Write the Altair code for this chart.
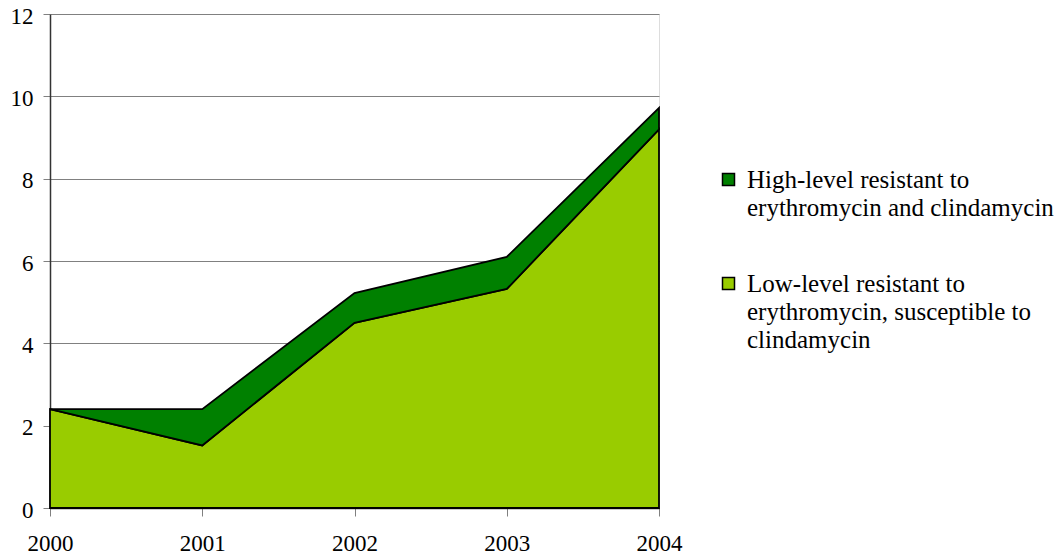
import altair as alt
import pandas as pd

years = [2000, 2001, 2002, 2003, 2004]
low_level = [2.4, 1.52, 4.5, 5.32, 9.2]
high_level = [0.0, 0.88, 0.72, 0.78, 0.52]
series = [
    "High-level resistant to erythromycin and clindamycin",
    "Low-level resistant to erythromycin, susceptible to clindamycin",
]
colors = ["#008000", "#99CC00"]

rows = []
for i, yr in enumerate(years):
    rows.append({"year": yr, "series": series[1], "value": low_level[i], "ord": 0})
    rows.append({"year": yr, "series": series[0], "value": high_level[i], "ord": 1})
df = pd.DataFrame(rows)

FONT = "Liberation Serif"

label_expr = (
    "datum.label == '" + series[0] + "' ? ['High-level resistant to', 'erythromycin and clindamycin']"
    " : ['Low-level resistant to', 'erythromycin, susceptible to', 'clindamycin']"
)

chart = (
    alt.Chart(df)
    .mark_area(stroke="black", strokeWidth=1.8, opacity=1)
    .encode(
        x=alt.X(
            "year:Q",
            scale=alt.Scale(domain=[2000, 2004], nice=False, zero=False),
            axis=alt.Axis(
                values=years,
                format="d",
                title=None,
                grid=False,
                tickSize=8,
                tickColor="#808080",
                domainColor="#333333",
                domainWidth=1.5,
                labelPadding=16,
                labelFont=FONT,
                labelFontSize=23,
                labelColor="black",
                labelFlush=False,
            ),
        ),
        y=alt.Y(
            "value:Q",
            stack="zero",
            scale=alt.Scale(domain=[0, 12], nice=False),
            axis=alt.Axis(
                values=[0, 2, 4, 6, 8, 10, 12],
                title=None,
                grid=True,
                gridColor="#808080",
                gridWidth=1,
                tickSize=7,
                tickColor="#808080",
                domainColor="#333333",
                domainWidth=1.5,
                labelPadding=10,
                labelOffset=2,
                labelFont=FONT,
                labelFontSize=23,
                labelColor="black",
            ),
        ),
        color=alt.Color(
            "series:N",
            scale=alt.Scale(domain=series, range=colors),
            legend=alt.Legend(
                title=None,
                orient="none",
                legendX=666,
                legendY=153,
                padding=0,
                symbolType="square",
                symbolSize=144,
                symbolStrokeColor="black",
                symbolStrokeWidth=1.5,
                symbolOpacity=1,
                labelFont=FONT,
                labelFontSize=25,
                labelColor="black",
                labelLimit=400,
                labelOffset=6,
                rowPadding=50,
                labelExpr=label_expr,
            ),
        ),
        order=alt.Order("ord:Q"),
    )
    .properties(
        width=609,
        height=494,
        autosize=alt.AutoSizeParams(type="none"),
        padding={"left": 42, "top": 6, "right": 397, "bottom": 48},
    )
    .configure_view(stroke=None)
    .configure(style={"guide-label": {"lineHeight": 28, "font": FONT}}, font=FONT)
)

chart.save("out.html", embed_options={"renderer": "svg", "actions": False})
